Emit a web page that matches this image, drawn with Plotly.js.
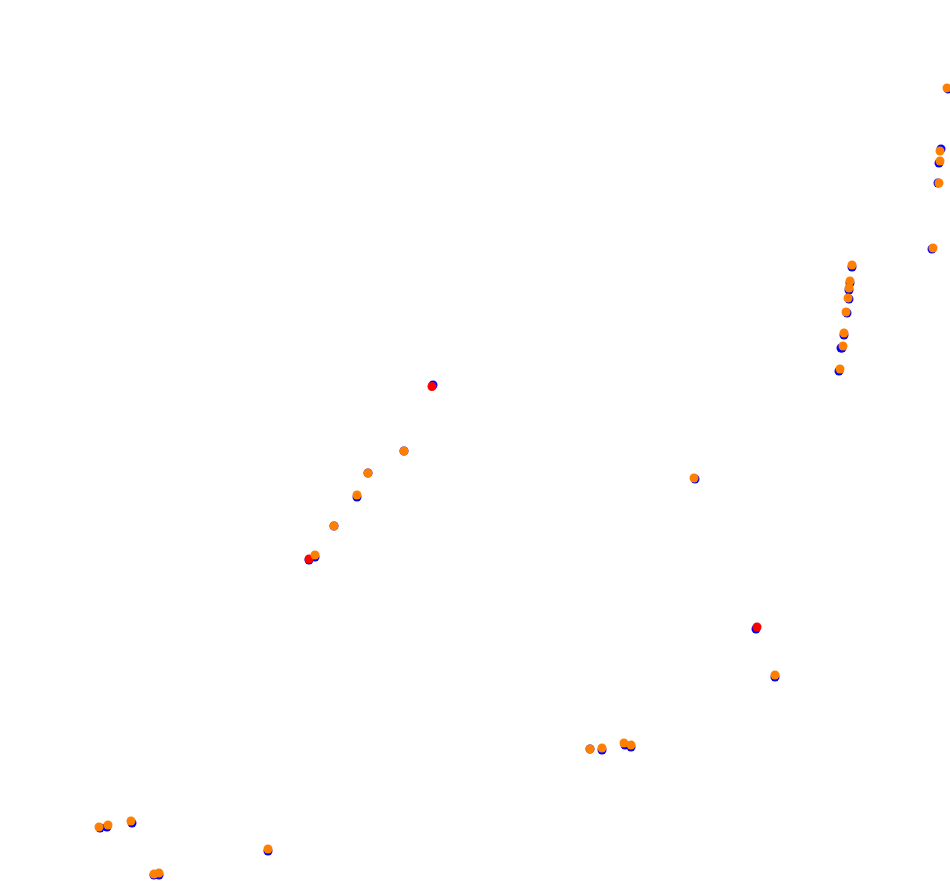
<!DOCTYPE html>
<html>
<head>
<meta charset="utf-8">
<script src="https://cdn.plot.ly/plotly-3.0.1.min.js"></script>
<style>html,body{margin:0;padding:0;background:#fff;}#chart{width:950px;height:895px;}</style>
</head>
<body>
<div id="chart"></div>
<script>
// Series values
const blueX = [948, 941, 939, 938, 932, 852, 850, 849, 849, 847, 844, 842, 841, 839,
               433, 404, 368, 357, 334, 315, 309,
               695, 756, 775, 590, 602, 625, 631,
               100, 107, 132, 268, 154, 159];
const blueY = [89, 149, 163, 183, 249, 267, 283, 290, 299, 313, 335, 348, 348, 371,
               385, 451, 473, 497, 526, 557, 560,
               479, 629, 677, 749, 750, 745, 747,
               828, 827, 823, 851, 875, 875];

const redX = [432, 309, 757];
const redY = [386.5, 559, 627];

const orangeX = [947, 940, 940, 939, 933, 852, 850, 849, 848, 846, 844, 843, 840,
                 404, 368, 357, 334, 315,
                 694, 775, 590, 602, 624, 631,
                 99, 108, 131, 268, 154, 159];
const orangeY = [88, 151, 161, 183, 248, 265, 281, 288, 298, 312, 333, 346, 369,
                 451, 473, 495, 526, 555,
                 478, 675, 749, 748, 743, 745,
                 827, 825, 821, 849, 874, 873];

const mk = (c) => ({size: 9, color: c, line: {width: 0}});
const data = [
  {x: blueX, y: blueY, mode: 'markers', type: 'scatter', marker: mk('#0000ff'), hoverinfo: 'none'},
  {x: redX, y: redY, mode: 'markers', type: 'scatter', marker: mk('#ff0000'), hoverinfo: 'none'},
  {x: orangeX, y: orangeY, mode: 'markers', type: 'scatter', marker: mk('#ff8000'), hoverinfo: 'none'}
];
const layout = {
  width: 950, height: 895,
  margin: {l: 0, r: 0, t: 0, b: 0},
  showlegend: false,
  paper_bgcolor: '#ffffff', plot_bgcolor: '#ffffff',
  xaxis: {range: [0, 950], visible: false, fixedrange: true},
  yaxis: {range: [895, 0], visible: false, fixedrange: true}
};
Plotly.newPlot('chart', data, layout, {staticPlot: true, displayModeBar: false});
</script>
</body>
</html>
